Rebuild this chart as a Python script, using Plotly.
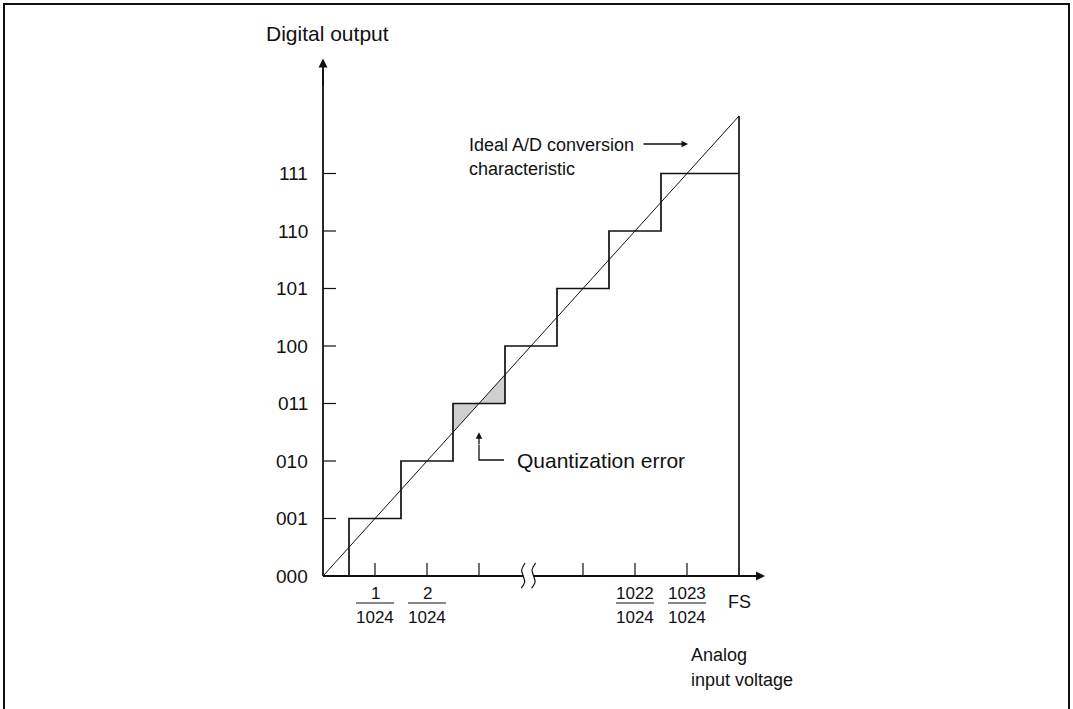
import plotly.graph_objects as go

# ---------------- data ----------------
y_levels = [0, 1, 2, 3, 4, 5, 6, 7]
y_labels = ["000", "001", "010", "011", "100", "101", "110", "111"]
x_ticks = [1, 2, 3, 5, 6, 7]
x_frac_pos = [1, 2, 6, 7]
x_frac_num = ["1", "2", "1022", "1023"]
x_frac_den = ["1024", "1024", "1024", "1024"]
fs_pos = 8
step_edges = [0.5, 1.5, 2.5, 3.5, 4.5, 5.5, 6.5]
ideal_x = [0, 8]
ideal_y = [0, 8]
err_tri1_x = [2.5, 2.5, 3.0]
err_tri1_y = [2.5, 3.0, 3.0]
err_tri2_x = [3.0, 3.5, 3.5]
err_tri2_y = [3.0, 3.0, 3.5]

# ---------------- geometry (pixel mapping) ----------------
W, H = 1073, 709
X0, UX = 323, 52.0
Y0, UY = 576, 57.5
xr = [-X0 / UX, (W - X0) / UX]
yr = [-(H - Y0) / UY, Y0 / UY]
px = lambda p: p / UX  # pixels -> x units
py = lambda p: p / UY  # pixels -> y units

FONT = "Liberation Sans, Arial, sans-serif"
BLACK = "#111111"

fig = go.Figure()

# shaded quantization error
for tx, ty in [(err_tri1_x, err_tri1_y), (err_tri2_x, err_tri2_y)]:
    fig.add_trace(go.Scatter(x=tx, y=ty, fill="toself", fillcolor="#d0d0d0",
                             mode="lines", line=dict(width=0), hoverinfo="skip"))

# staircase
sx, sy = [step_edges[0]], [0]
for i, e in enumerate(step_edges):
    sx += [e, e]
    sy += [i, i + 1]
sx.append(ideal_x[1])
sy.append(len(step_edges))
fig.add_trace(go.Scatter(x=sx, y=sy, mode="lines",
                         line=dict(color=BLACK, width=1.7), hoverinfo="skip"))
# full-scale vertical
fig.add_trace(go.Scatter(x=[fs_pos, fs_pos], y=[0, ideal_y[1]], mode="lines",
                         line=dict(color=BLACK, width=1.7), hoverinfo="skip"))
# ideal line
fig.add_trace(go.Scatter(x=ideal_x, y=ideal_y, mode="lines",
                         line=dict(color=BLACK, width=1.0), hoverinfo="skip"))

# x axis segments (with break)
brk_l, brk_r = 3.85, 4.05
fig.add_trace(go.Scatter(x=[0, brk_l], y=[0, 0], mode="lines",
                         line=dict(color=BLACK, width=1.8), hoverinfo="skip"))
fig.add_trace(go.Scatter(x=[brk_r, 8.3], y=[0, 0], mode="lines",
                         line=dict(color=BLACK, width=1.8), hoverinfo="skip"))
# break symbol
for bx in [brk_l, brk_r]:
    fig.add_trace(go.Scatter(
        x=[bx + px(2), bx - px(1.5), bx, bx + px(1.5), bx - px(2)],
        y=[py(13), py(6), 0, -py(6), -py(12)],
        mode="lines", line=dict(color=BLACK, width=1.2, shape="spline"),
        hoverinfo="skip"))
# y axis
fig.add_trace(go.Scatter(x=[0, 0], y=[0, 8.8], mode="lines",
                         line=dict(color=BLACK, width=1.8), hoverinfo="skip"))

# tick marks
tx, ty = [], []
for v in y_levels[1:]:
    tx += [0, px(13), None]
    ty += [v, v, None]
for v in x_ticks:
    tx += [v, v, None]
    ty += [0, py(13), None]
fig.add_trace(go.Scatter(x=tx, y=ty, mode="lines",
                         line=dict(color=BLACK, width=1.2), hoverinfo="skip"))

# fraction bars
fx, fy = [], []
for v in x_frac_pos:
    fx += [v - px(19), v + px(19), None]
    fy += [-py(27), -py(27), None]
fig.add_trace(go.Scatter(x=fx, y=fy, mode="lines",
                         line=dict(color=BLACK, width=1.0), hoverinfo="skip"))

ann = []
def arrow(x, y, ax, ay, w=1.8, size=1.0):
    ann.append(dict(x=x, y=y, ax=ax, ay=ay, xref="x", yref="y", axref="x", ayref="y",
                    text="", showarrow=True, arrowhead=2, arrowsize=size,
                    arrowwidth=w, arrowcolor=BLACK, standoff=0, startstandoff=0))

def text(x, y, s, size=18, xanchor="center", yanchor="middle", xshift=0, yshift=0):
    ann.append(dict(x=x, y=y, xref="x", yref="y", text=s, showarrow=False,
                    xanchor=xanchor, yanchor=yanchor, xshift=xshift, yshift=yshift,
                    font=dict(family=FONT, size=size, color=BLACK)))

# axis arrows
arrow(0, 9, 0, 8.5)
arrow(8.5, 0, 8.1, 0)

# y tick labels
for v, s in zip(y_levels, y_labels):
    text(0, v, s, size=19, xanchor="right", xshift=-13)

# x fraction labels
for v, n, d in zip(x_frac_pos, x_frac_num, x_frac_den):
    text(v, 0, n, size=17, yshift=-17)
    text(v, 0, d, size=17, yshift=-41)
text(fs_pos, 0, "FS", size=18, yshift=-26)

# titles
text(-px(59), py(576 - 33), "Digital output", size=21, xanchor="left")
text(px(689 - 323), -py(655 - 576), "Analog", size=18, xanchor="left")
text(px(689 - 323), -py(680 - 576), "input voltage", size=18, xanchor="left")

# ideal characteristic label + arrow
text(px(467 - 323), py(576 - 145), "Ideal A/D conversion", size=18, xanchor="left")
text(px(467 - 323), py(576 - 169), "characteristic", size=18, xanchor="left")
arrow(px(688 - 323), py(576 - 144), px(642 - 323), py(576 - 144), w=1.3)

# quantization error label + arrow
fig.add_trace(go.Scatter(x=[3, 3, px(504 - 323)], y=[py(576 - 445), py(576 - 460), py(576 - 460)],
                         mode="lines", line=dict(color=BLACK, width=1.3), hoverinfo="skip"))
arrow(3, 2.5, 3, py(576 - 446), w=1.3)
text(px(515 - 323), py(576 - 460), "Quantization error", size=21, xanchor="left")

fig.update_layout(
    width=W, height=H, autosize=False,
    margin=dict(l=0, r=0, t=0, b=0, pad=0),
    paper_bgcolor="white", plot_bgcolor="white",
    showlegend=False,
    xaxis=dict(range=xr, visible=False, fixedrange=True),
    yaxis=dict(range=yr, visible=False, fixedrange=True),
    annotations=ann,
    shapes=[dict(type="rect", xref="paper", yref="paper",
                 x0=4 / W, x1=1069 / W, y0=-0.02, y1=1 - 4 / H,
                 line=dict(color=BLACK, width=2))],
)

fig.write_html("out.html", config={"displayModeBar": False, "staticPlot": True},
               post_script="document.body.style.margin='0';document.body.style.overflow='hidden';")
